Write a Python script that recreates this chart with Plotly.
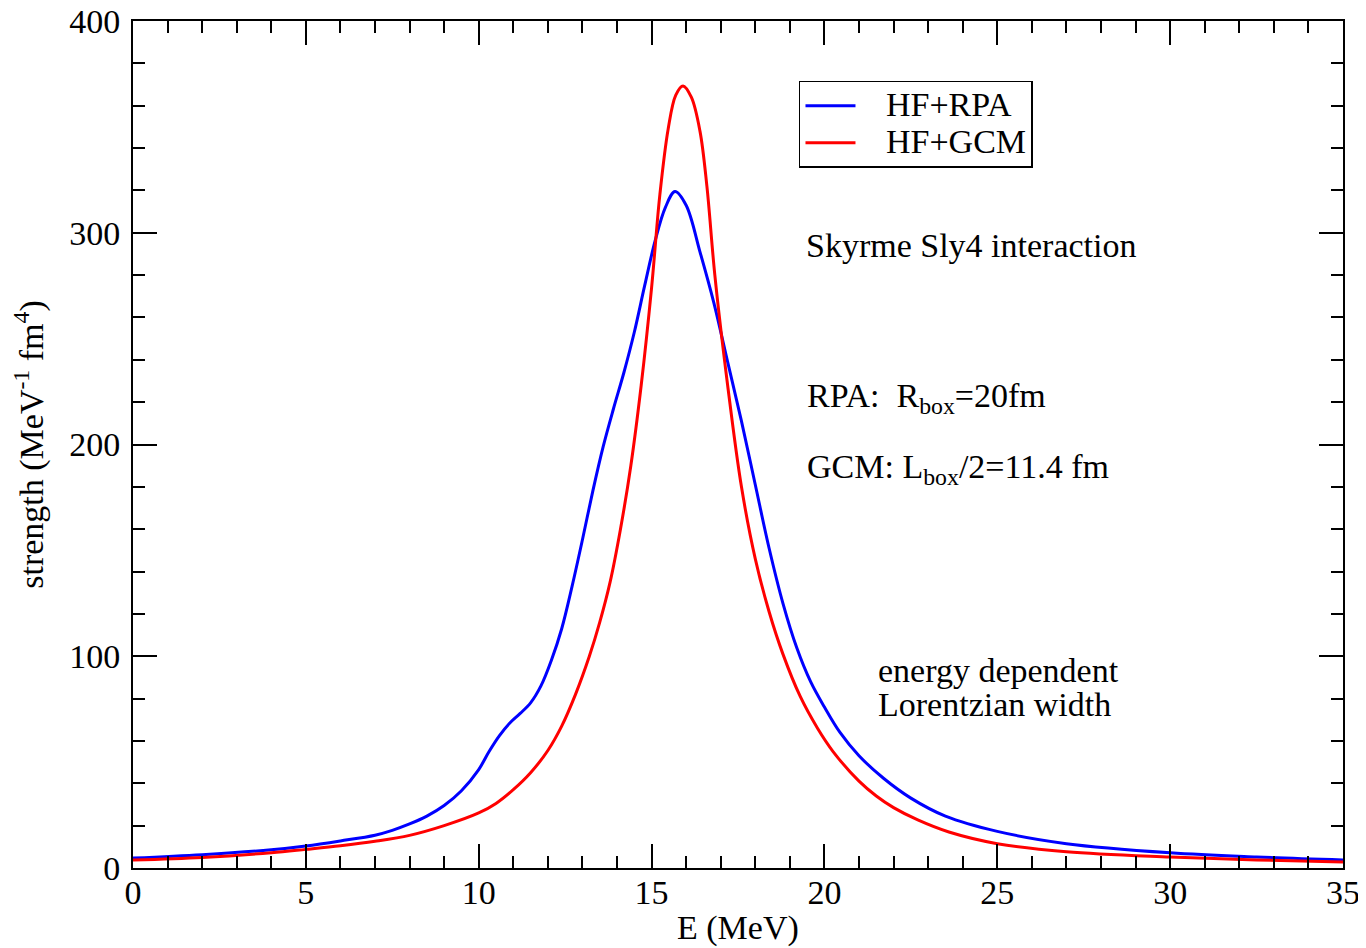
import plotly.graph_objects as go

# HF+RPA (blue)
e_rpa = [0, 2, 4, 5, 6, 7, 7.5, 8, 8.5, 9, 9.5, 10, 10.3, 10.6, 10.9, 11.2, 11.5, 11.8, 12.1,
         12.4, 12.7, 13.0, 13.3, 13.6, 13.9, 14.2, 14.5, 14.8, 15.1, 15.4, 15.68, 16.0, 16.4,
         16.8, 17.2, 17.6, 18.0, 18.4, 18.8, 19.2, 19.6, 20.0, 20.45, 21.0, 21.7, 22.5, 23.5,
         25, 27, 30, 32.5, 35]
s_rpa = [4.7, 6.3, 8.6, 10.4, 12.8, 15.5, 17.8, 20.8, 24.5, 29.5, 36.5, 46.5, 55, 62.5, 68.5, 73,
         78, 86, 98, 113, 133, 155, 178, 199, 217, 234, 253, 275, 296, 312, 319.5, 313, 291,
         267, 239, 211, 181, 151, 125, 104, 88, 76, 64, 53, 42.5, 33, 24.5,
         17.3, 11.5, 7.2, 5.2, 3.8]

# HF+GCM (red)
e_gcm = [0, 2, 4, 5, 6, 7, 8, 9, 10, 10.5, 11.0, 11.5, 12.0, 12.4, 12.8, 13.2, 13.5, 13.8, 14.1,
         14.4, 14.7, 15.0, 15.24, 15.48, 15.7, 15.91, 16.15, 16.4, 16.6, 16.83, 17.2, 17.6,
         18.0, 18.4, 18.8, 19.3, 19.8, 20.25, 21.0, 21.5, 22.0, 22.7, 23.6, 25, 27, 30, 32.5, 35]
s_gcm = [3.8, 5.0, 7.2, 8.8, 10.5, 12.6, 15.4, 20, 26, 30.5, 37, 45, 55.5, 67, 82, 100, 116, 135,
         160, 190, 228, 274, 318, 349, 365, 369.3, 364, 348, 322, 280, 228, 180,
         146, 121, 101, 81, 66, 55, 41, 34, 28.5, 22.7, 17, 11.5, 7.7, 5.2, 3.8, 2.8]

x_ticks = [0, 5, 10, 15, 20, 25, 30, 35]
y_ticks = [0, 100, 200, 300, 400]

FONT = "Liberation Serif, Times New Roman, serif"
FS = 34
PAD = "\u00a0\u00a0\u00a0"

fig = go.Figure()
fig.add_trace(go.Scatter(x=e_rpa, y=s_rpa, mode="lines",
                         name=f'<span style="font-size:34px">{PAD}HF+RPA</span>',
                         line=dict(color="#0000ff", width=3, shape="spline", smoothing=1.0)))
fig.add_trace(go.Scatter(x=e_gcm, y=s_gcm, mode="lines",
                         name=f'<span style="font-size:34px">{PAD}HF+GCM</span>',
                         line=dict(color="#ff0000", width=3, shape="spline", smoothing=1.0)))

axis_common = dict(showline=True, linecolor="black", linewidth=2, mirror="allticks",
                   ticks="inside", ticklen=24, tickwidth=2, tickcolor="black",
                   showgrid=False, zeroline=False, automargin=False,
                   ticklabeloverflow="allow",
                   tickfont=dict(family=FONT, size=FS, color="black"))

fig.update_xaxes(range=[0, 35], tickvals=x_ticks, ticktext=[str(v) for v in x_ticks],
                 minor=dict(dtick=1, ticks="inside", ticklen=12, tickwidth=2, tickcolor="black", showgrid=False),
                 ticklabelstandoff=-7,
                 **axis_common)
fig.update_yaxes(range=[0, 400], tickvals=y_ticks, ticktext=[str(v) for v in y_ticks],
                 minor=dict(dtick=20, ticks="inside", ticklen=12, tickwidth=2, tickcolor="black", showgrid=False),
                 ticklabelstandoff=4,
                 title=dict(text="strength (MeV<sup>-1</sup> fm<sup>4</sup>)",
                            font=dict(family=FONT, size=FS, color="black"), standoff=15),
                 **axis_common)

ann_font = dict(family=FONT, size=FS, color="black")

# x-axis title
fig.add_annotation(x=0.5, y=-0.0708, xref="paper", yref="paper", text="E (MeV)",
                   showarrow=False, xanchor="center", yanchor="middle", font=ann_font)

notes = [
    (19.4, 294, "Skyrme Sly4 interaction"),
    (19.45, 222, "RPA:\u00a0\u00a0R<sub>box</sub>=20fm"),
    (19.45, 188.5, "GCM: L<sub>box</sub>/2=11.4 fm"),
    (21.5, 93.5, "energy dependent"),
    (21.5, 77, "Lorentzian width"),
]
for x, y, t in notes:
    fig.add_annotation(x=x, y=y, xref="x", yref="y", text=t, showarrow=False,
                       xanchor="left", yanchor="middle", align="left", font=ann_font)

fig.update_layout(
    width=1358, height=940,
    margin=dict(l=125, r=23, t=13, b=80),
    paper_bgcolor="white", plot_bgcolor="white",
    font=dict(family=FONT, size=FS, color="black"),
    showlegend=True,
    legend=dict(x=0.5504, y=0.9292, xanchor="left", yanchor="top",
                bordercolor="black", borderwidth=1.5, bgcolor="white",
                font=dict(family=FONT, size=26, color="black"),
                itemwidth=50, tracegroupgap=0),
)

fig.write_html("out.html")
